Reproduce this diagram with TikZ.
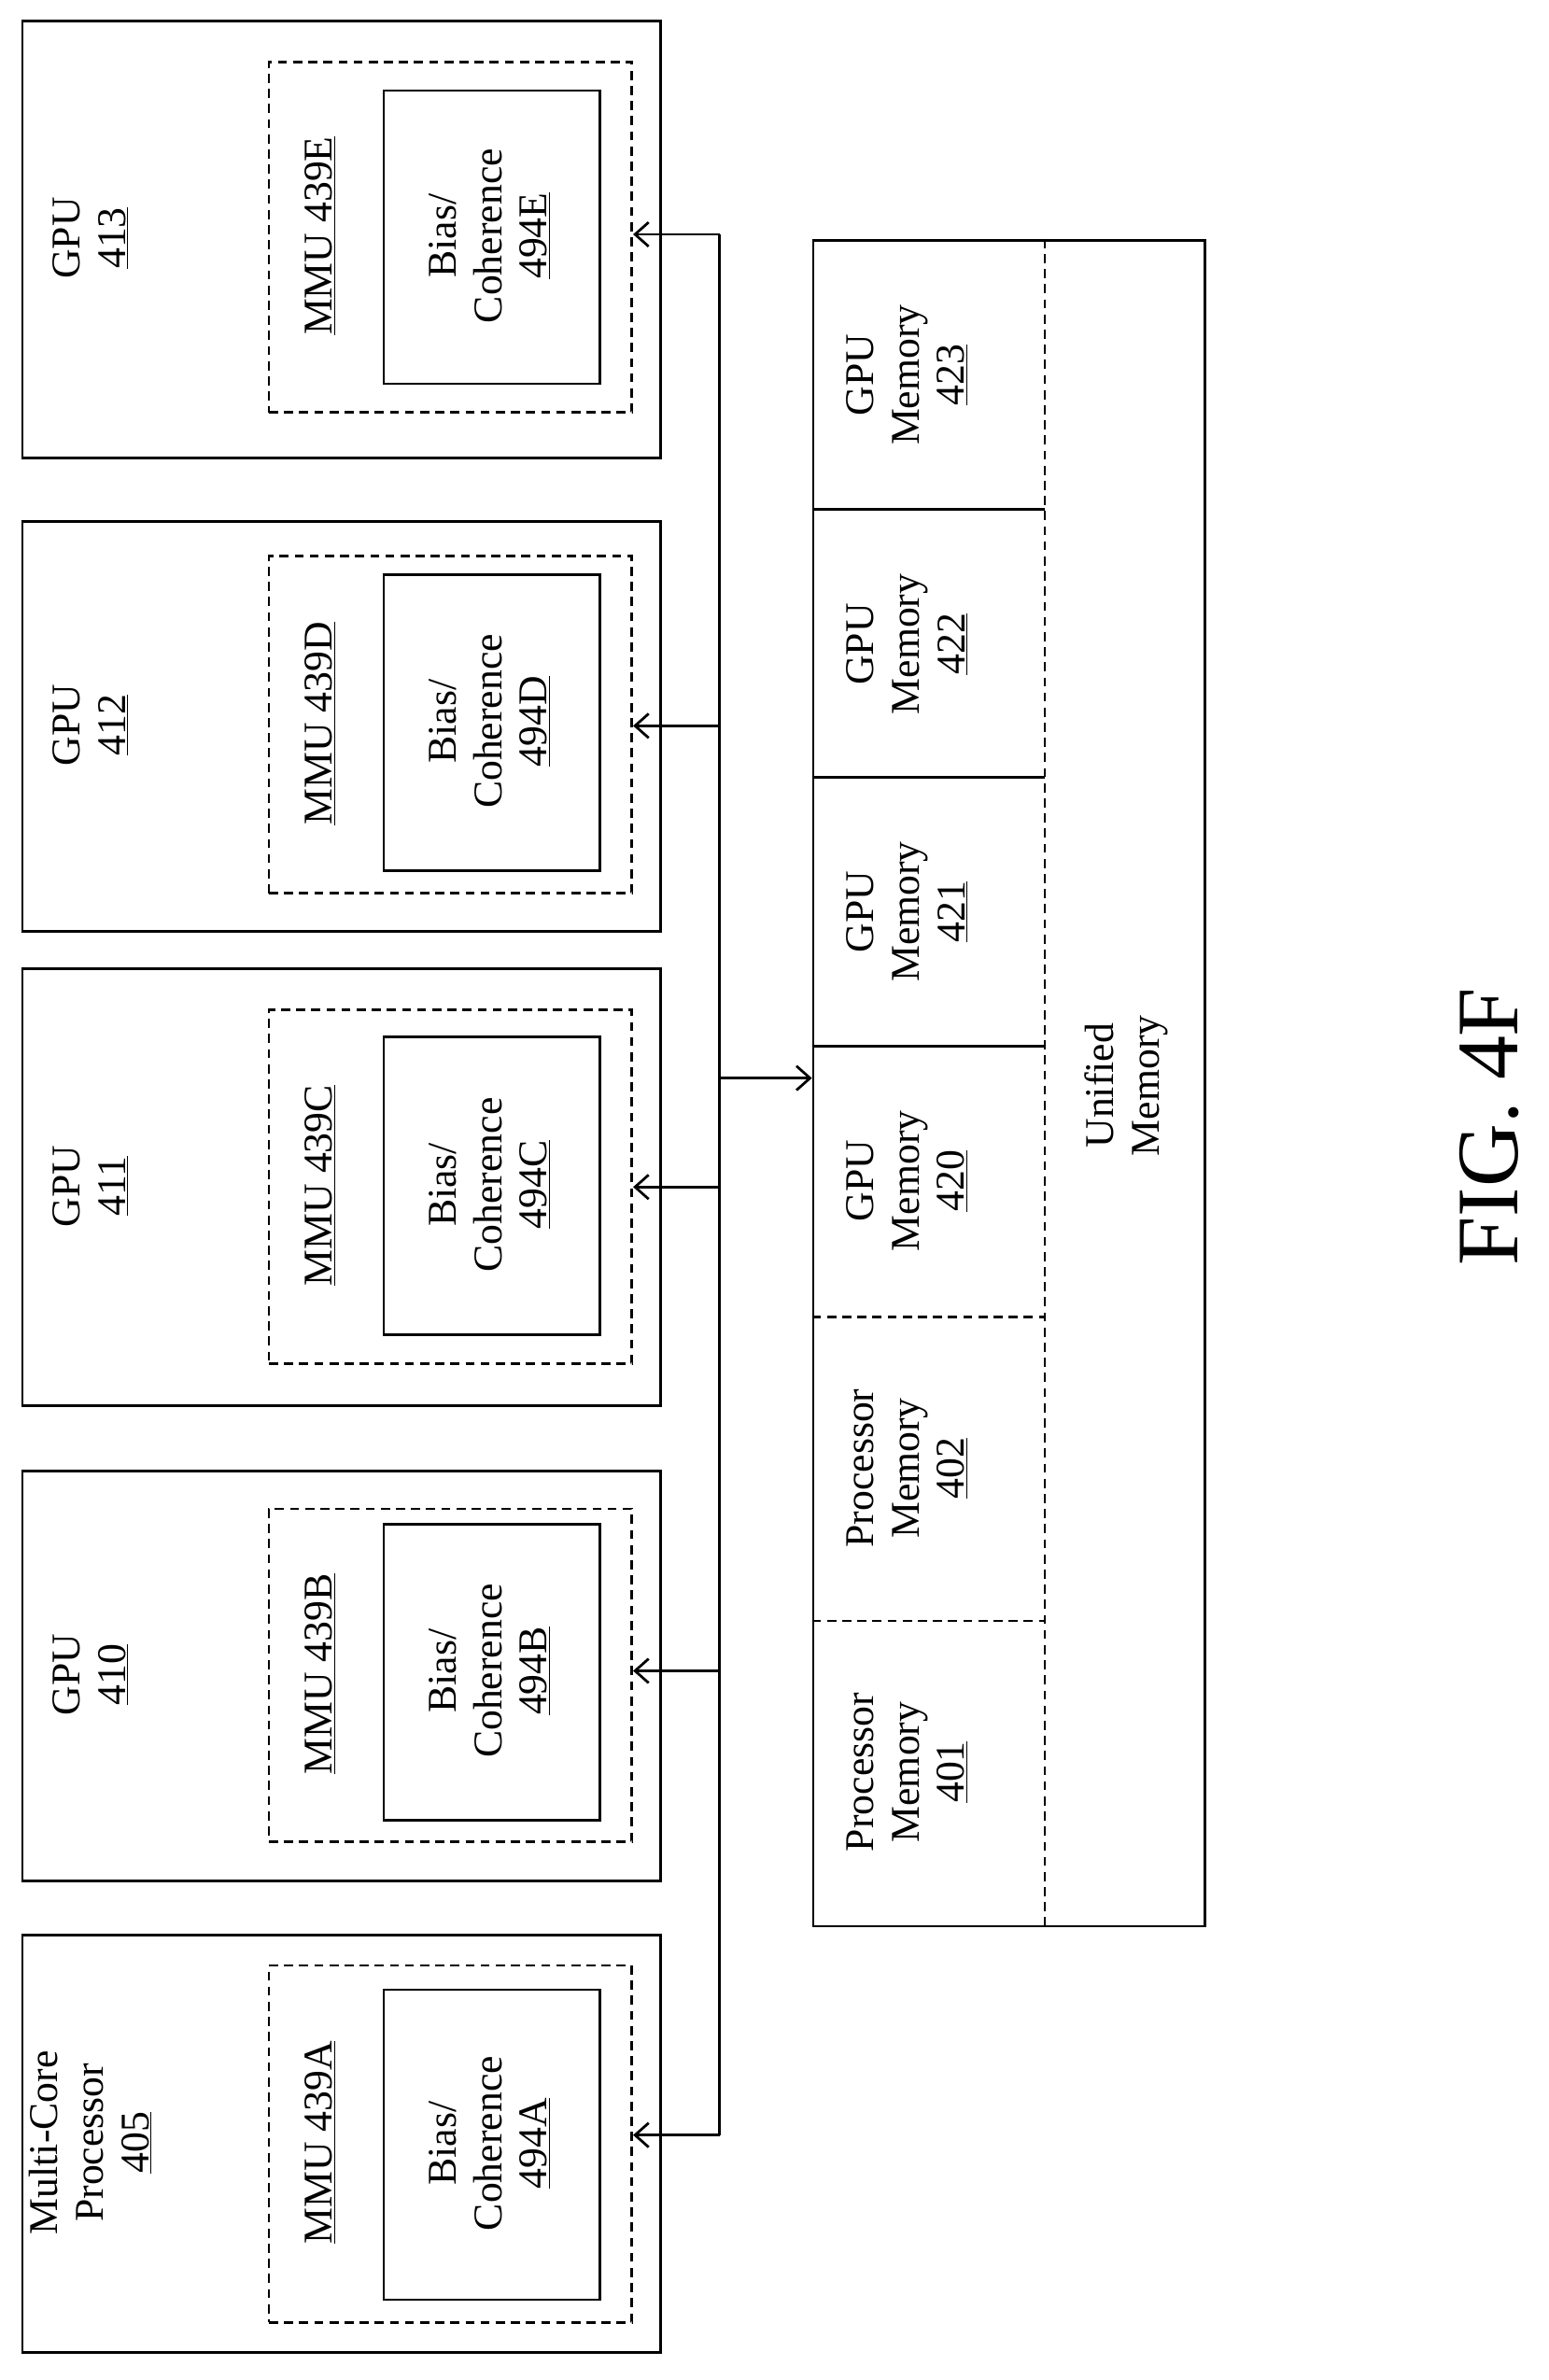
\documentclass[tikz,border=0pt]{standalone}
\usepackage{fontspec}
\setmainfont{Liberation Serif}
\usetikzlibrary{arrows.meta}
\begin{document}
\begin{tikzpicture}[x=1pt,y=-1pt,
 box/.style={draw,line width=1.7pt,inner sep=0pt,anchor=north west},
 dbox/.style={box,dashed,dash pattern=on 6pt off 4pt},
 lab/.style={rotate=90,align=center,font=\fontsize{27}{30}\selectfont},
 arr/.style={line width=1.7pt,-{Straight Barb[length=9pt,width=16pt,line width=1.7pt]}},
 ln/.style={line width=1.7pt}]
\useasboundingbox (0,0) rectangle (1024,1574);
\newcommand{\unitbox}[9]{%
 \node[box,minimum width=422,minimum height=#3-#2] (#1) at (14,#2) {};
 \node[dbox,minimum width=240,minimum height=#5-#4] (#1d) at (177,#4) {};
 \node[box,minimum width=143,minimum height=#7-#6] (#1i) at (253,#6) {};
 \node[lab] (#1t) at (60,{(#2+#3)/2}) {#8};
 \node[lab] (#1m) at (212,{(#4+#5)/2}) {\underline{MMU 439#9}};
 \node[lab] (#1b) at (324,{(#6+#7)/2}) {Bias/\\Coherence\\\underline{494#9}};
}
\unitbox{p}{1279}{1555}{1299}{1535}{1315}{1520}{Multi-Core\\Processor\\\underline{405}}{A}
\unitbox{g0}{972}{1243}{997}{1217}{1007}{1203}{GPU\\\underline{410}}{B}
\unitbox{g1}{640}{929}{667}{901}{685}{882}{GPU\\\underline{411}}{C}
\unitbox{g2}{344}{615}{367}{590}{379}{575}{GPU\\\underline{412}}{D}
\unitbox{g3}{13}{302}{40}{272}{59}{253}{GPU\\\underline{413}}{E}
\coordinate (b3) at (476,155);
\coordinate (b2) at (476,480);
\coordinate (b1) at (476,785);
\coordinate (b0) at (476,1105);
\coordinate (bp) at (476,1412);
\coordinate (bm) at (476,713);
\draw[ln] (b3) -- (bp);
\draw[arr] (b3) -- (g3d.east |- b3);
\draw[arr] (b2) -- (g2d.east |- b2);
\draw[arr] (b1) -- (g1d.east |- b1);
\draw[arr] (b0) -- (g0d.east |- b0);
\draw[arr] (bp) -- (pd.east |- bp);
\node[box,minimum width=259,minimum height=1115] (um) at (537,158) {};
\draw[arr] (bm) -- (um.west |- bm);
\draw[ln,dash pattern=on 6pt off 4pt] (691,158) -- (691,1273);
\draw[ln] (537,337) -- (691,337);
\draw[ln] (537,514) -- (691,514);
\draw[ln] (537,692) -- (691,692);
\draw[ln,dash pattern=on 6pt off 4pt] (537,871) -- (691,871);
\draw[ln,dash pattern=on 6pt off 4pt] (537,1072) -- (691,1072);
\node[lab] (m423) at (600,248) {GPU\\Memory\\\underline{423}};
\node[lab] (m422) at (600,426) {GPU\\Memory\\\underline{422}};
\node[lab] (m421) at (600,603) {GPU\\Memory\\\underline{421}};
\node[lab] (m420) at (600,781) {GPU\\Memory\\\underline{420}};
\node[lab] (m402) at (600,971) {Processor\\Memory\\\underline{402}};
\node[lab] (m401) at (600,1172) {Processor\\Memory\\\underline{401}};
\node[lab] (umt) at (745,718) {Unified\\Memory};
\node[rotate=90,font=\fontsize{58}{64}\selectfont] (fig) at (985,745) {FIG. 4F};
\end{tikzpicture}
\end{document}
